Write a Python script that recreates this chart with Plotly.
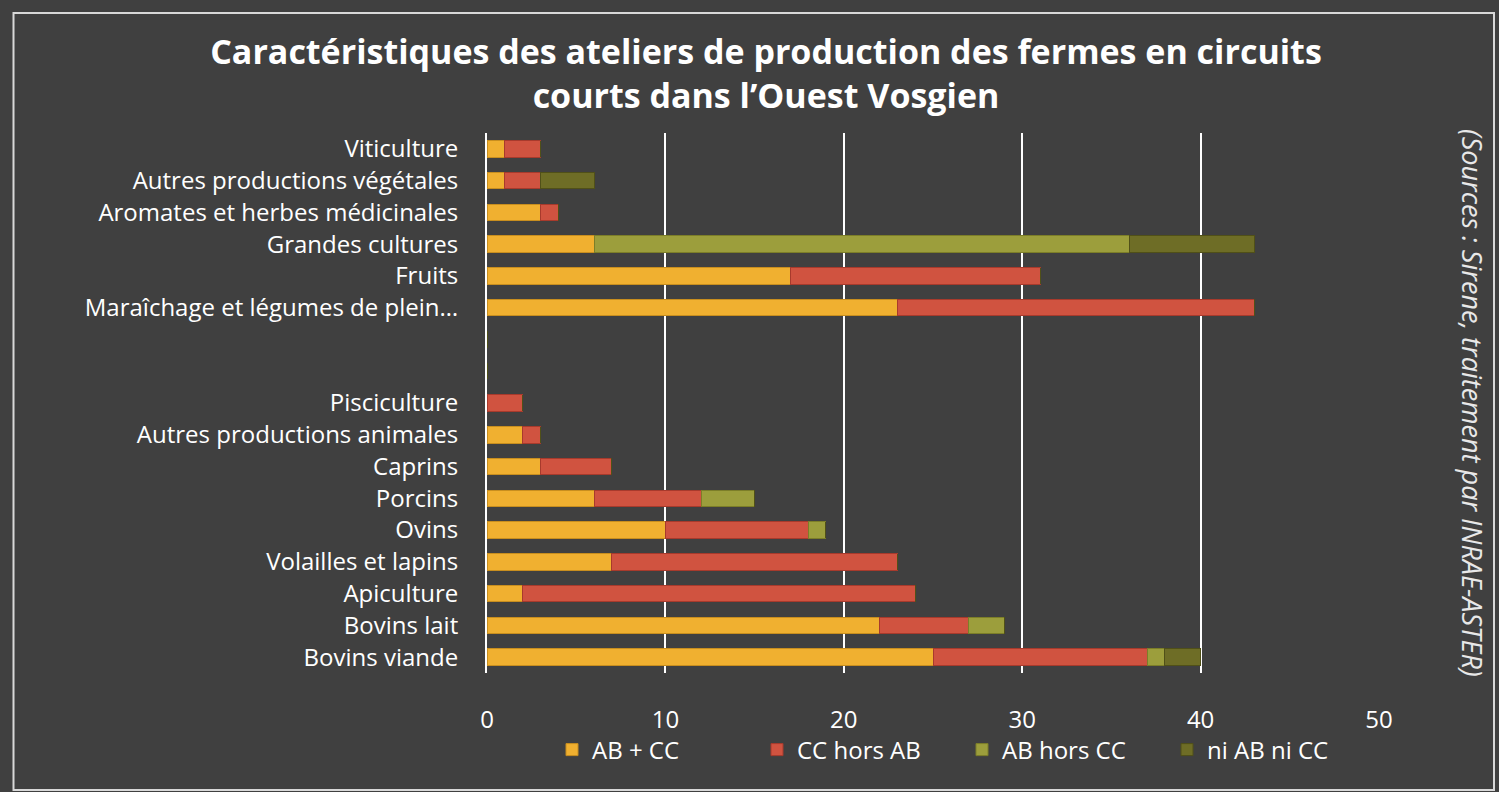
import plotly.graph_objects as go

categories = [
    "Viticulture",
    "Autres productions végétales",
    "Aromates et herbes médicinales",
    "Grandes cultures",
    "Fruits",
    "Maraîchage et légumes de plein…",
    " ",
    "  ",
    "Pisciculture",
    "Autres productions animales",
    "Caprins",
    "Porcins",
    "Ovins",
    "Volailles et lapins",
    "Apiculture",
    "Bovins lait",
    "Bovins viande",
]

ab_cc = [1, 1, 3, 6, 17, 23, 0, 0, 0, 2, 3, 6, 10, 7, 2, 22, 25]
cc_hors_ab = [2, 2, 1, 0, 14, 20, 0, 0, 2, 1, 4, 6, 8, 16, 22, 5, 12]
ab_hors_cc = [0, 0, 0, 30, 0, 0, 0, 0, 0, 0, 0, 3, 1, 0, 0, 2, 1]
ni_ab_ni_cc = [0, 3, 0, 7, 0, 0, 0, 0, 0, 0, 0, 0, 0, 0, 0, 0, 2]

series_names = ["AB + CC", "CC hors AB", "AB hors CC", "ni AB ni CC"]
series_values = [ab_cc, cc_hors_ab, ab_hors_cc, ni_ab_ni_cc]
colors = ["#F0B030", "#D05340", "#9C9E3C", "#6E6D26"]
edge_colors = ["#C88E1E", "#A83A2C", "#7C7E28", "#505018"]

x_ticks = [0, 10, 20, 30, 40, 50]

fig = go.Figure()
for name, vals, col, ec in zip(series_names, series_values, colors, edge_colors):
    fig.add_trace(go.Bar(
        y=categories, x=vals, name=name, orientation="h",
        marker=dict(color=col, line=dict(color=ec, width=1)),
        hoverinfo="x+y+name",
    ))

font_main = "Open Sans, Lato, sans-serif"

fig.update_layout(
    width=1499, height=792,
    barmode="stack",
    bargap=0.48,
    paper_bgcolor="#404040",
    plot_bgcolor="#404040",
    margin=dict(l=487, r=120, t=133, b=119),
    title=dict(
        text="<b>Caractéristiques des ateliers de production des fermes en circuits<br>courts dans l’Ouest Vosgien</b>",
        x=(766 / 1499), xanchor="center", y=1 - 64 / 792, yanchor="middle",
        font=dict(family=font_main, size=34, color="white"),
    ),
    font=dict(family=font_main, color="white", size=24),
    xaxis=dict(
        range=[0, 50], tickvals=x_ticks, ticktext=[str(t) for t in x_ticks],
        showgrid=True, gridcolor="#FFFFFF", gridwidth=2,
        zeroline=False, showline=False,
        tickfont=dict(size=24, color="white"),
        ticks="", ticklabelstandoff=30,
    ),
    yaxis=dict(
        categoryorder="array", categoryarray=categories,
        autorange="reversed",
        showgrid=False, zeroline=False,
        showline=True, linecolor="#FFFFFF", linewidth=2,
        tickfont=dict(size=24, color="white"),
        ticks="", ticklabelstandoff=22,
    ),
    legend=dict(
        orientation="h", x=(962 - 487) / 892, xanchor="center",
        y=-(750 - 673) / 540, yanchor="middle",
        font=dict(size=24, color="white"),
        bgcolor="rgba(0,0,0,0)",
        itemwidth=30, traceorder="normal",
        entrywidth=160, entrywidthmode="pixels",
    ),
    showlegend=True,
    annotations=[dict(
        text="<i>(Sources : Sirene, traitement par INRAE-ASTER)</i>",
        xref="paper", yref="paper", x=(1473 - 487) / 892, y=(792 - 403 - 119) / 540,
        xanchor="center", yanchor="middle", textangle=90, showarrow=False,
        font=dict(family=font_main, size=27, color="#E8E8E8"),
    )],
    shapes=[dict(
        type="rect", xref="paper", yref="paper",
        x0=(13.5 - 487) / 892, x1=(1494 - 487) / 892,
        y0=(792 - 790 - 119) / 540, y1=(792 - 13 - 119) / 540,
        line=dict(color="#D8D8D8", width=2), fillcolor="rgba(0,0,0,0)", layer="below",
    )],
)

fig.write_html(
    "out.html",
    config={"displayModeBar": False},
    post_script="document.body.style.margin='0';document.body.style.overflow='hidden';",
)
